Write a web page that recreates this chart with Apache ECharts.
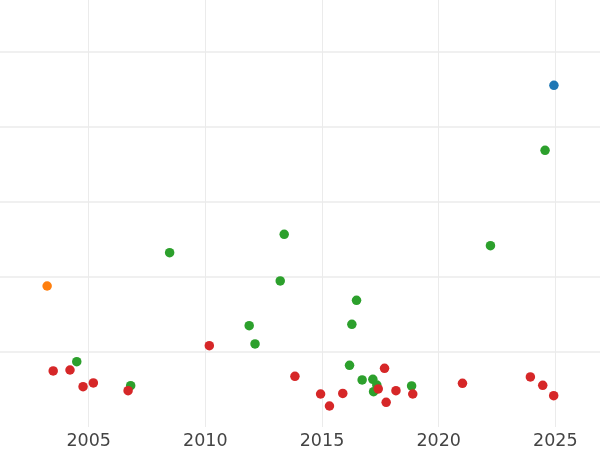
<!DOCTYPE html>
<html>
<head>
<meta charset="utf-8">
<script src="https://cdn.jsdelivr.net/npm/echarts@6/dist/echarts.min.js"></script>
<style>
html,body{margin:0;padding:0;background:#fff;width:600px;height:450px;overflow:hidden;position:relative}
#c{position:absolute;left:-28px;top:-23px;width:700px;height:473px}
</style>
</head>
<body>
<div id="c"></div>
<script>
// [year, value]
const blueSeries = [[2024.94, 4.556]];
const orangeSeries = [[2003.22, 1.88]];
const greenSeries = [
  [2008.47, 2.324], [2013.38, 2.569], [2013.21, 1.947], [2011.88, 1.351], [2012.13, 1.107],
  [2004.49, 0.871], [2006.80, 0.551], [2022.22, 2.417], [2016.48, 1.689], [2016.28, 1.369],
  [2016.18, 0.823], [2016.72, 0.627], [2017.18, 0.636], [2017.35, 0.56], [2017.21, 0.471],
  [2018.84, 0.547], [2024.56, 3.689]
];
const redSeries = [
  [2010.17, 1.084], [2013.84, 0.676], [2003.48, 0.747], [2004.20, 0.76], [2004.76, 0.537],
  [2005.20, 0.587], [2006.69, 0.484], [2017.68, 0.783], [2017.41, 0.507], [2018.17, 0.484],
  [2018.89, 0.44], [2014.94, 0.44], [2015.32, 0.28], [2015.89, 0.447], [2017.75, 0.329],
  [2021.02, 0.583], [2023.93, 0.667], [2024.46, 0.556], [2024.93, 0.417]
];
const xTicks = [2000, 2005, 2010, 2015, 2020, 2025, 2030];

const chart = echarts.init(document.getElementById('c'), null, {renderer: 'canvas'});
const mk = (data, color) => ({
  type: 'scatter', data: data, symbolSize: 9.5,
  itemStyle: {color: color, opacity: 1}, silent: true, animation: false
});
chart.setOption({
  animation: false,
  grid: {left: 0, right: 0, top: 0, bottom: 23, containLabel: false, outerBoundsMode: 'none'},
  xAxis: {
    type: 'value', min: xTicks[0], max: xTicks[xTicks.length - 1], interval: 5,
    axisLine: {show: false}, axisTick: {show: false},
    axisLabel: {color: '#444', fontSize: 17.5, fontFamily: 'DejaVu Sans', margin: 5,
      formatter: v => String(v)},
    splitLine: {show: true, lineStyle: {color: '#ebebeb', width: 1}}
  },
  yAxis: {
    type: 'value', min: 0, max: 6, interval: 1,
    axisLine: {show: false}, axisTick: {show: false}, axisLabel: {show: false},
    splitLine: {show: true, showMinLine: false, lineStyle: {color: '#ebebeb', width: 1.6}}
  },
  series: [
    mk(blueSeries, '#1f77b4'),
    mk(orangeSeries, '#ff7f0e'),
    mk(greenSeries, '#2ca02c'),
    mk(redSeries, '#d62728')
  ]
});
</script>
</body>
</html>
